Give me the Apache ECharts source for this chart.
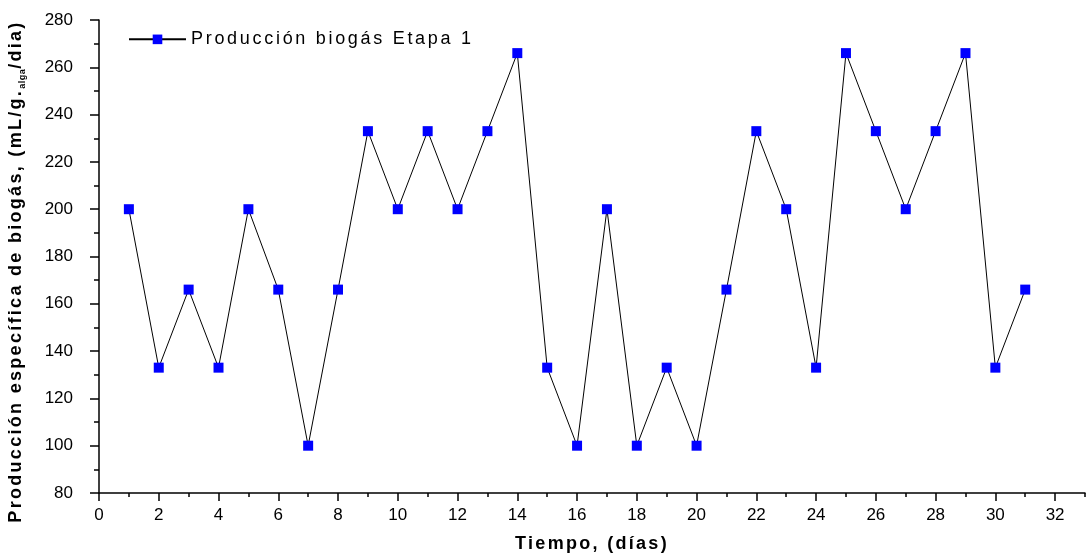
<!DOCTYPE html>
<html>
<head>
<meta charset="utf-8">
<script src="https://cdn.jsdelivr.net/npm/echarts@6/dist/echarts.min.js"></script>
<style>
html,body{margin:0;padding:0;background:#fff;}
#c{width:1087px;height:557px;}
</style>
</head>
<body>
<div id="c"></div>
<script>
// ---- data ----
var days = [1,2,3,4,5,6,7,8,9,10,11,12,13,14,15,16,17,18,19,20,21,22,23,24,25,26,27,28,29,30,31];
var biogas = [200,133,166,133,200,166,100,166,233,200,233,200,233,266,133,100,200,100,133,100,166,233,200,133,266,233,200,233,266,133,166];
var xMajorTicks = [0,2,4,6,8,10,12,14,16,18,20,22,24,26,28,30,32];
var yTicks = [80,100,120,140,160,180,200,220,240,260,280];
var seriesName = 'Producción biogás Etapa 1';
var xTitle = 'Tiempo, (días)';
var yTitleMain = 'Producción específica de biogás, (mL/g.';
var yTitleSub = 'alga';
var yTitleEnd = '/dia)';

// Letter spacing (as in the original export) applied consistently to measuring and drawing
(function () {
  var P = CanvasRenderingContext2D.prototype;
  function spacing(font) {
    var m = /(\d+(?:\.\d+)?)px/.exec(font || '');
    var size = m ? parseFloat(m[1]) : 12;
    var bold = /bold|700/.test(font || '');
    if (bold && size >= 14) return '2.3px';
    if (bold) return '0.5px';
    if (size >= 18) return '2.7px';
    return '0px';
  }
  var fill = P.fillText, meas = P.measureText;
  P.fillText = function (t, x, y, w) {
    var prev = this.letterSpacing;
    this.letterSpacing = spacing(this.font);
    var r = w === undefined ? fill.call(this, t, x, y) : fill.call(this, t, x, y, w);
    this.letterSpacing = prev || '0px';
    return r;
  };
  P.measureText = function (t) {
    var prev = this.letterSpacing;
    this.letterSpacing = spacing(this.font);
    var r = meas.call(this, t);
    this.letterSpacing = prev || '0px';
    return r;
  };
})();

var FONT = 'Liberation Sans';
var chart = echarts.init(document.getElementById('c'), null, {renderer: 'canvas'});
var pts = days.map(function (d, i) { return [d, biogas[i]]; });

var option = {
  animation: false,
  backgroundColor: '#fff',
  textStyle: {fontFamily: FONT},
  grid: {left: 99, right: 2, top: 20, bottom: 64, containLabel: false, outerBoundsMode: 'none'},
  legend: {
    left: 128, top: 29, padding: 0,
    itemWidth: 57, itemHeight: 12,
    data: [seriesName],
    textStyle: {fontFamily: FONT, fontSize: 18, color: '#000'}
  },
  xAxis: [{
    type: 'value', min: 0, max: 33, interval: 1,
    axisLine: {show: true, lineStyle: {color: '#000', width: 1.5}},
    axisTick: {show: true, inside: false, length: 4, lineStyle: {color: '#000', width: 1.5}},
    axisLabel: {
      show: true, margin: 14, fontSize: 17, color: '#000', fontFamily: FONT,
      customValues: xMajorTicks
    },
    splitLine: {show: false},
    name: xTitle, nameLocation: 'middle', nameGap: 41,
    nameTextStyle: {fontFamily: FONT, fontSize: 18, fontWeight: 'bold', color: '#000'}
  }, {
    type: 'value', min: 0, max: 33, position: 'bottom',
    axisLine: {show: false},
    axisTick: {show: true, inside: false, length: 8, customValues: xMajorTicks, lineStyle: {color: '#000', width: 1.5}},
    axisLabel: {show: false},
    splitLine: {show: false}
  }],
  yAxis: {
    type: 'value', min: 80, max: 280, interval: 20,
    axisLine: {show: true, lineStyle: {color: '#000', width: 1.5}},
    axisTick: {show: true, inside: false, length: 9, lineStyle: {color: '#000', width: 1.5}},
    minorTick: {show: true, splitNumber: 2, length: 5, lineStyle: {color: '#000', width: 1.5}},
    axisLabel: {
      margin: 26, fontSize: 17, color: '#000', fontFamily: FONT,
      customValues: yTicks
    },
    splitLine: {show: false},
    name: '{a|' + yTitleMain + '}{s|' + yTitleSub + '}{a|' + yTitleEnd + '}',
    nameLocation: 'middle', nameRotate: 90, nameGap: 72,
    nameTextStyle: {
      padding: [0, 30, 0, 0],
      rich: {
        a: {fontFamily: FONT, fontSize: 18, fontWeight: 'bold', color: '#000', lineHeight: 22},
        s: {fontFamily: FONT, fontSize: 9, fontWeight: 'bold', color: '#000', verticalAlign: 'bottom', lineHeight: 22}
      }
    }
  },
  series: [{
    name: seriesName,
    type: 'line',
    xAxisIndex: 0,
    data: pts,
    symbol: 'rect', symbolSize: 10,
    itemStyle: {color: '#0000FF', borderWidth: 0},
    lineStyle: {color: '#000', width: 1},
    emphasis: {disabled: true}
  }]
};
chart.setOption(option);
</script>
</body>
</html>
